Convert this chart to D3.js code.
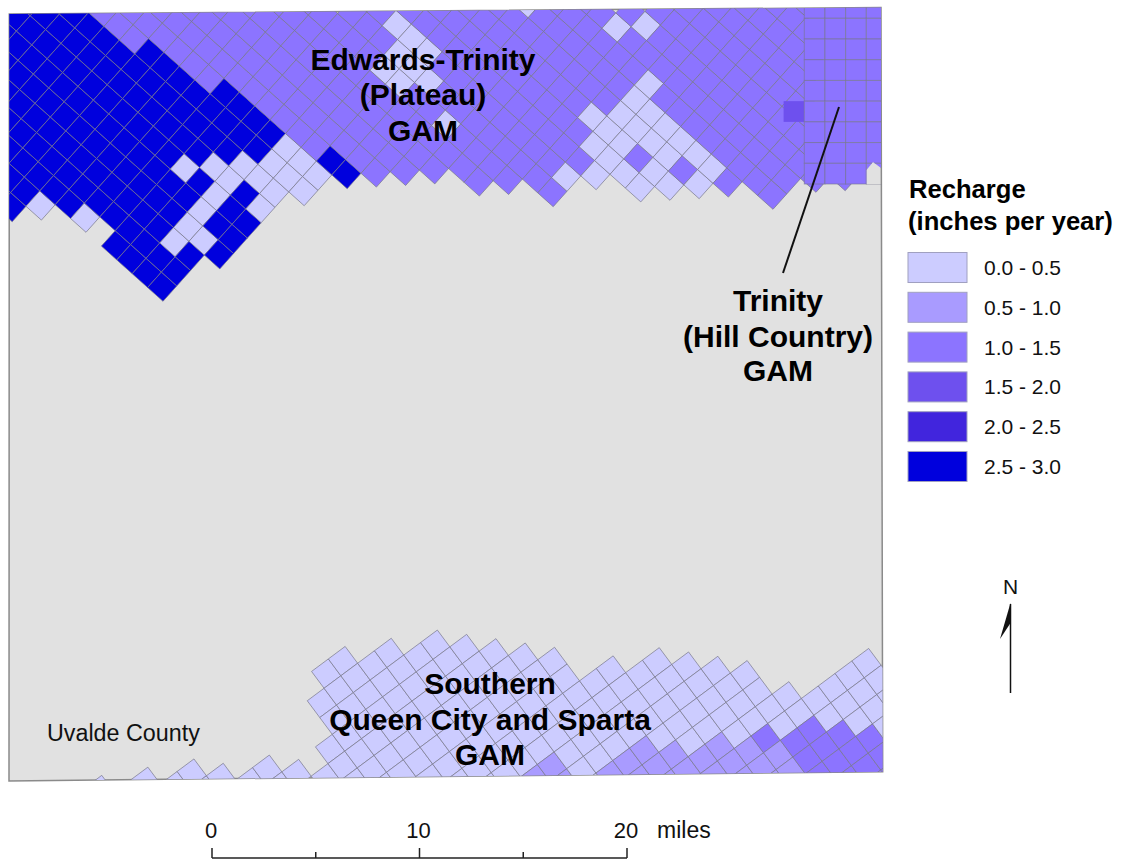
<!DOCTYPE html>
<html>
<head>
    <meta charset="utf-8" />
    <title>Recharge</title>
    <script src="https://cdn.jsdelivr.net/npm/d3@7"></script>
    <style>
        html, body { margin: 0; padding: 0; background: #fff; }
        svg { display: block; }
        text { font-family: "Liberation Sans", Arial, sans-serif; fill: #111; }
        .bold text, text.bold { fill: #000; }
    </style>
</head>
<body>
    <div id="chart"></div>
    <script>
        // recharge classes
        var classLabels = ["0.0 - 0.5", "0.5 - 1.0", "1.0 - 1.5", "1.5 - 2.0", "2.0 - 2.5", "2.5 - 3.0"];
        var classColors = ["#ccccff", "#a99bff", "#8c74ff", "#6e50ee", "#4125dd", "#0000dd"];

        // [row, first column, class of each cell] "." = no cell
        var plateauRows = [
            [-7, -6, "55"],
            [-6, -7, "5550"],
            [-5, -7, "555550.5555"],
            [-4, -8, "555555555555"],
            [-3, -9, "5555555555505"],
            [-2, -10, "555555555555005"],
            [-1, -11, "5555555555555055"],
            [0, -12, "55555555555505055"],
            [1, -11, "5555555555550050"],
            [2, -9, "55555555555000"],
            [3, -8, "22255555555000"],
            [4, -7, "2222225555000"],
            [5, -6, "2222222222255"],
            [6, -5, "2222222222222"],
            [7, -4, "2222222222222"],
            [8, -3, "2222222222222"],
            [9, -2, "22222222222222"],
            [10, -1, "22222002202222"],
            [11, 1, "22200022222222"],
            [12, 2, "2000222222220"],
            [13, 3, "2222222222220"],
            [14, 4, "22222222220000"],
            [15, 5, "22222222000200"],
            [16, 6, "22222222000020"],
            [17, 7, "02222220000002"],
            [18, 8, "222222022222222"],
            [19, 9, "22022222222222"],
            [20, 11, "2022222222222"],
            [21, 12, "2222222222222"],
            [22, 13, "222222222"],
            [23, 14, "2222222"],
            [24, 15, "22222"],
            [25, 16, "222"],
            [26, 17, "2"]
        ];

        // [column, first row, class of each cell] for the southern grid
        var spartaColumns = [
            [-4, -17, "0"],
            [-3, -15, "0"],
            [-2, -14, "00.......00"],
            [-1, -13, "00.....00000"],
            [0, -11, "00...0000000"],
            [1, -10, "00.000000000"],
            [2, -8, "00000000000"],
            [3, -7, "00000000000"],
            [4, -6, "00000000000"],
            [5, -4, "000000000"],
            [6, -3, "0000000000"],
            [7, -2, "00000000000"],
            [8, 0, "1100000000"],
            [9, 1, "1000000000"],
            [10, 2, "0111000000"],
            [11, 4, "11100000"],
            [12, 5, "11110000"],
            [13, 6, "11112000000"],
            [14, 8, "111220000"],
            [15, 9, "11222000"],
            [16, 10, "122220"],
            [17, 12, "2220"],
            [18, 13, "22"]
        ];

        var trinityRows = [".2222", ".2222", ".2222", ".2222", ".2222", "32222", ".2222", ".2222", ".2222"];

        var scaleValues = [0, 5, 10, 15, 20];
        var scaleLabels = ["0", "", "10", "", "20"];

        var width = 1124, height = 861;
        var svg = d3.select("#chart").append("svg").attr("width", width).attr("height", height);
        var color = d3.scaleOrdinal().domain(d3.range(classColors.length)).range(classColors);

        // county outline, and the same outline with the small notch on the east side for the cells
        var county = [[9.3, 14], [881, 7.5], [882.7, 771.7], [9, 781]];
        var cellArea = [[9.3, 14], [881, 7.5], [881, 168], [873, 162], [866.5, 170], [866.5, 184], [881.5, 184], [882.7, 771.7], [9, 781]];

        svg.append("clipPath").attr("id", "cellClip").append("polygon").attr("points", cellArea.join(" "));
        svg.append("polygon").attr("points", county.join(" "))
            .attr("fill", "#e1e1e1").attr("stroke", "#8a8a8a").attr("stroke-width", 1.5);

        var map = svg.append("g").attr("clip-path", "url(#cellClip)");
        var line = d3.line();

        // turn the row strings into cells
        function toCells(rows, swap)
        {
            var cells = [];
            rows.forEach(function (r)
            {
                r[2].split("").forEach(function (c, i)
                {
                    if (c == ".") return;
                    if (swap) cells.push({ u: r[1] + i, v: r[0], value: +c });
                    else cells.push({ u: r[0], v: r[1] + i, value: +c });
                });
            });
            return cells;
        }

        // a rotated model grid: position comes from one scale per grid direction
        function drawGrid(cells, x0, y0, ax, ay)
        {
            var xu = d3.scaleLinear().domain([0, 1]).range([0, ax]);
            var yu = d3.scaleLinear().domain([0, 1]).range([0, ay]);
            var xv = d3.scaleLinear().domain([0, 1]).range([0, -ay]);
            var yv = d3.scaleLinear().domain([0, 1]).range([0, ax]);
            function pt(u, v) { return [x0 + xu(u) + xv(v), y0 + yu(u) + yv(v)]; }

            map.append("g").selectAll("path").data(cells).join("path")
                .attr("d", function (d)
                {
                    return line([pt(d.u - .5, d.v - .5), pt(d.u + .5, d.v - .5), pt(d.u + .5, d.v + .5), pt(d.u - .5, d.v + .5)]) + "Z";
                })
                .attr("fill", function (d) { return color(d.value); })
                .attr("stroke", "#77778a")
                .attr("stroke-opacity", .7)
                .attr("stroke-width", 1);
        }

        drawGrid(toCells(plateauRows), 185, 168.3, 13.8, -15.4);
        drawGrid(toCells(spartaColumns, true), 435.2, 644.7, 16.8, -12.5);

        // Trinity grid is square to the page
        var tx = d3.scaleLinear().domain([0, 5]).range([783.6, 887]);
        var ty = d3.scaleLinear().domain([0, 9]).range([-2.4, 184]);
        var trinityCells = [];
        trinityRows.forEach(function (r, j)
        {
            r.split("").forEach(function (c, i)
            {
                if (c != ".") trinityCells.push({ col: i, row: j, value: +c });
            });
        });
        map.append("g").selectAll("rect").data(trinityCells).join("rect")
            .attr("x", function (d) { return tx(d.col); })
            .attr("y", function (d) { return ty(d.row); })
            .attr("width", tx(1) - tx(0))
            .attr("height", ty(1) - ty(0))
            .attr("fill", function (d) { return color(d.value); })
            .attr("stroke", function (d) { return d.value == 2 ? "#77778a" : "none"; })
            .attr("stroke-opacity", .6)
            .attr("stroke-width", 1);

        // map labels
        function label(lines, x, ys, size, weight)
        {
            var g = svg.append("g").attr("class", "bold").attr("text-anchor", "middle").attr("font-size", size).attr("font-weight", weight);
            lines.forEach(function (t, i)
            {
                g.append("text").attr("x", x).attr("y", ys[i]).text(t);
            });
        }
        label(["Edwards-Trinity", "(Plateau)", "GAM"], 423, [70, 105, 141], 30, "bold");
        label(["Southern", "Queen City and Sparta", "GAM"], 490, [694, 730, 765], 30, "bold");
        label(["Trinity", "(Hill Country)", "GAM"], 778, [311, 347, 381], 30, "bold");
        svg.append("text").attr("x", 47).attr("y", 741).attr("font-size", 23.3).text("Uvalde County");

        svg.append("line").attr("x1", 839).attr("y1", 107).attr("x2", 783).attr("y2", 273)
            .attr("stroke", "#111").attr("stroke-width", 2);

        // legend
        svg.append("text").attr("class", "bold").attr("x", 909).attr("y", 198).attr("font-size", 25.6).attr("font-weight", "bold").text("Recharge");
        svg.append("text").attr("class", "bold").attr("x", 908).attr("y", 230).attr("font-size", 25.6).attr("font-weight", "bold").text("(inches per year)");

        var ly = d3.scaleBand().domain(classLabels).range([252.5, 481.5]).paddingInner(.246).paddingOuter(0);
        var legend = svg.append("g").selectAll("g").data(classLabels).join("g");
        legend.append("rect")
            .attr("x", 908).attr("width", 59)
            .attr("y", function (d) { return ly(d); })
            .attr("height", ly.bandwidth())
            .attr("fill", function (d, i) { return classColors[i]; })
            .attr("stroke", "#a0a0c0").attr("stroke-width", 1);
        legend.append("text")
            .attr("x", 984)
            .attr("y", function (d) { return ly(d) + ly.bandwidth() / 2 + 7.5; })
            .attr("font-size", 21)
            .text(function (d) { return d; });

        // north arrow
        svg.append("text").attr("x", 1010.5).attr("y", 594).attr("text-anchor", "middle").attr("font-size", 21).text("N");
        svg.append("line").attr("x1", 1010.5).attr("y1", 604).attr("x2", 1010.5).attr("y2", 693)
            .attr("stroke", "#111").attr("stroke-width", 1.5);
        svg.append("path").attr("d", line([[1010.5, 603], [1000, 639], [1010.5, 623]]) + "Z").attr("fill", "#111");

        // scale bar
        var sx = d3.scaleLinear().domain([0, 20]).range([212, 627]);
        var bar = svg.append("g");
        bar.append("line").attr("x1", sx(0)).attr("x2", sx(20)).attr("y1", 858).attr("y2", 858)
            .attr("stroke", "#222").attr("stroke-width", 1.5);
        bar.selectAll("line.tick").data(scaleValues).join("line")
            .attr("class", "tick")
            .attr("x1", function (d) { return sx(d); })
            .attr("x2", function (d) { return sx(d); })
            .attr("y1", function (d, i) { return scaleLabels[i] ? 848 : 852; })
            .attr("y2", 858)
            .attr("stroke", "#222").attr("stroke-width", 1.5);
        bar.selectAll("text.num").data(scaleValues).join("text")
            .attr("class", "num")
            .attr("x", function (d) { return sx(d) - 1; })
            .attr("y", 838)
            .attr("text-anchor", "middle")
            .attr("font-size", 22)
            .text(function (d, i) { return scaleLabels[i]; });
        bar.append("text").attr("x", 657).attr("y", 838).attr("font-size", 23).text("miles");
    </script>
</body>
</html>
